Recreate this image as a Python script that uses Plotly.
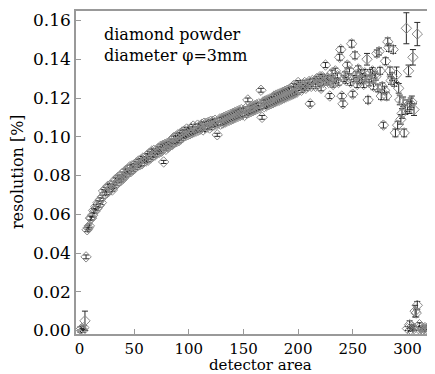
import plotly.graph_objects as go

# detector areas 1..300 (dense part)
det_main = list(range(1, 301))
res_main = [
    0.0005, 0.001, 0.0, 0.0015, 0.005, 0.038, 0.052, 0.053, 0.054, 0.058,
    0.058, 0.0595, 0.062, 0.0615, 0.064, 0.063, 0.066, 0.0645, 0.0675, 0.066,
    0.069, 0.072, 0.0705, 0.073, 0.071, 0.0745, 0.072, 0.075, 0.0735, 0.0725,
    0.076, 0.0745, 0.078, 0.0755, 0.079, 0.077, 0.0795, 0.0775, 0.081, 0.0785,
    0.080, 0.0825, 0.0805, 0.083, 0.0815, 0.0845, 0.082, 0.085, 0.083, 0.0855,
    0.084, 0.0865, 0.085, 0.0875, 0.0855, 0.088, 0.086, 0.089, 0.087, 0.0885,
    0.0875, 0.0905, 0.088, 0.0915, 0.089, 0.0925, 0.090, 0.093, 0.0905, 0.092,
    0.0915, 0.094, 0.092, 0.095, 0.0925, 0.0955, 0.087, 0.096, 0.0935, 0.0965,
    0.0945, 0.097, 0.0955, 0.098, 0.096, 0.0995, 0.097, 0.100, 0.0975, 0.101,
    0.098, 0.1015, 0.099, 0.1025, 0.100, 0.103, 0.1005, 0.104, 0.101, 0.1035,
    0.1015, 0.1045, 0.102, 0.1055, 0.1025, 0.1045, 0.103, 0.106, 0.1035, 0.1055,
    0.104, 0.1065, 0.1035, 0.107, 0.1045, 0.107, 0.105, 0.1075, 0.1045, 0.108,
    0.1055, 0.108, 0.106, 0.1085, 0.1065, 0.101, 0.107, 0.109, 0.1065, 0.1095,
    0.107, 0.110, 0.1075, 0.1105, 0.108, 0.111, 0.1085, 0.1115, 0.109, 0.112,
    0.1095, 0.1125, 0.110, 0.113, 0.1105, 0.1135, 0.111, 0.114, 0.1115, 0.1135,
    0.111, 0.1145, 0.112, 0.119, 0.1125, 0.115, 0.113, 0.1155, 0.1135, 0.116,
    0.114, 0.1165, 0.1145, 0.117, 0.115, 0.124, 0.110, 0.118, 0.1155, 0.1185,
    0.116, 0.119, 0.1165, 0.1195, 0.117, 0.120, 0.1175, 0.121, 0.118, 0.1215,
    0.1185, 0.122, 0.119, 0.1225, 0.1195, 0.123, 0.120, 0.1235, 0.1205, 0.124,
    0.121, 0.1245, 0.1215, 0.125, 0.122, 0.1265, 0.1225, 0.126, 0.123, 0.128,
    0.125, 0.127, 0.124, 0.126, 0.1255, 0.128, 0.125, 0.127, 0.126, 0.1285,
    0.117, 0.126, 0.129, 0.127, 0.1285, 0.126, 0.130, 0.127, 0.129, 0.131,
    0.125, 0.131, 0.128, 0.130, 0.137, 0.129, 0.1305, 0.128, 0.121, 0.130,
    0.133, 0.127, 0.129, 0.134, 0.129, 0.1315, 0.128, 0.141, 0.145, 0.121,
    0.117, 0.130, 0.132, 0.129, 0.137, 0.131, 0.134, 0.128, 0.148, 0.122,
    0.130, 0.142, 0.132, 0.127, 0.135, 0.129, 0.133, 0.129, 0.131, 0.127,
    0.133, 0.130, 0.140, 0.119, 0.128, 0.133, 0.130, 0.134, 0.126, 0.132,
    0.131, 0.143, 0.125, 0.144, 0.134, 0.121, 0.126, 0.106, 0.124, 0.139,
    0.121, 0.149, 0.146, 0.134, 0.129, 0.131, 0.145, 0.128, 0.102, 0.132,
    0.106, 0.125, 0.119, 0.109, 0.112, 0.118, 0.102, 0.114, 0.156, 0.116,
]
err_main = [
    0.0015, 0.001, 0.001, 0.001, 0.005, 0.001, 0.001, 0.001, 0.001, 0.001,
    0.001, 0.001, 0.001, 0.001, 0.001, 0.001, 0.001, 0.001, 0.001, 0.001,
    0.0008, 0.0008, 0.0008, 0.0008, 0.0008, 0.0008, 0.0008, 0.0008, 0.0008, 0.0008,
    0.0008, 0.0008, 0.0008, 0.0008, 0.0008, 0.0008, 0.0008, 0.0008, 0.0008, 0.0008,
    0.0008, 0.0008, 0.0008, 0.0008, 0.0008, 0.0008, 0.0008, 0.0008, 0.0008, 0.0008,
    0.0008, 0.0008, 0.0008, 0.0008, 0.0008, 0.0008, 0.0008, 0.0008, 0.0008, 0.0008,
    0.0008, 0.0008, 0.0008, 0.0008, 0.0008, 0.0008, 0.0008, 0.0008, 0.0008, 0.0008,
    0.0008, 0.0008, 0.0008, 0.0008, 0.0008, 0.0008, 0.0008, 0.0008, 0.0008, 0.0008,
    0.0008, 0.0008, 0.0008, 0.0008, 0.0008, 0.0008, 0.0008, 0.0008, 0.0008, 0.0008,
    0.0008, 0.0008, 0.0008, 0.0008, 0.0008, 0.0008, 0.0008, 0.0008, 0.0008, 0.0008,
    0.0008, 0.0008, 0.0008, 0.0008, 0.0008, 0.0008, 0.0008, 0.0008, 0.0008, 0.0008,
    0.0008, 0.0008, 0.0008, 0.0008, 0.0008, 0.0008, 0.0008, 0.0008, 0.0008, 0.0008,
    0.0008, 0.0008, 0.0008, 0.0008, 0.0008, 0.0008, 0.0008, 0.0008, 0.0008, 0.0008,
    0.0008, 0.0008, 0.0008, 0.0008, 0.0008, 0.0008, 0.0008, 0.0008, 0.0008, 0.0008,
    0.0009, 0.0009, 0.0009, 0.0009, 0.0009, 0.0009, 0.0009, 0.0009, 0.0009, 0.0009,
    0.0009, 0.0009, 0.0009, 0.001, 0.0009, 0.0009, 0.0009, 0.0009, 0.0009, 0.0009,
    0.0009, 0.0009, 0.0009, 0.0009, 0.0009, 0.001, 0.001, 0.0009, 0.0009, 0.0009,
    0.001, 0.001, 0.001, 0.001, 0.001, 0.001, 0.001, 0.001, 0.001, 0.001,
    0.001, 0.001, 0.001, 0.001, 0.001, 0.001, 0.001, 0.001, 0.001, 0.001,
    0.001, 0.001, 0.001, 0.001, 0.001, 0.001, 0.001, 0.001, 0.001, 0.001,
    0.0012, 0.0012, 0.0012, 0.0012, 0.0012, 0.0012, 0.0012, 0.0012, 0.0012, 0.0012,
    0.0012, 0.0012, 0.0012, 0.0012, 0.0012, 0.0012, 0.0012, 0.0012, 0.0012, 0.0012,
    0.0013, 0.0013, 0.0013, 0.0013, 0.0013, 0.0013, 0.0013, 0.0013, 0.0013, 0.0013,
    0.0014, 0.0014, 0.0014, 0.0014, 0.0014, 0.0014, 0.0014, 0.0015, 0.0015, 0.0014,
    0.0015, 0.0015, 0.0015, 0.0015, 0.0015, 0.0015, 0.0015, 0.0015, 0.0018, 0.0015,
    0.0016, 0.0018, 0.0016, 0.0016, 0.0016, 0.0016, 0.0016, 0.0016, 0.0016, 0.0016,
    0.0017, 0.0017, 0.003, 0.0017, 0.0017, 0.0017, 0.0017, 0.0017, 0.0017, 0.0017,
    0.0018, 0.0018, 0.0018, 0.0018, 0.0018, 0.0018, 0.0018, 0.0015, 0.0018, 0.0018,
    0.002, 0.002, 0.002, 0.002, 0.002, 0.002, 0.002, 0.002, 0.002, 0.004,
    0.002, 0.0025, 0.0025, 0.0025, 0.0025, 0.0025, 0.002, 0.0025, 0.008, 0.003,
]

# sparse end of the detector (x > 300)
det_end = [301, 302, 303, 304, 305, 306, 309,
           300, 302, 303, 304, 305, 306, 307, 308, 309, 310, 311,
           312, 313, 314, 315, 316, 317, 318, 319, 320, 321, 322]
res_end = [0.134, 0.115, 0.117, 0.118, 0.141, 0.114, 0.153,
           0.001, 0.003, 0.0005, 0.002, 0.0015, 0.001, 0.010, 0.009, 0.013, 0.001, 0.003,
           0.001, 0.0015, 0.0005, 0.001, 0.0015, 0.0005, 0.001, 0.0015, 0.001, 0.0005, 0.001]
err_end = [0.003, 0.003, 0.003, 0.003, 0.004, 0.003, 0.006,
           0.001, 0.002, 0.001, 0.001, 0.001, 0.001, 0.003, 0.002, 0.002, 0.001, 0.001,
           0.001, 0.001, 0.001, 0.001, 0.001, 0.001, 0.001, 0.001, 0.001, 0.001, 0.001]

x_ticks = [0, 50, 100, 150, 200, 250, 300]
y_ticks = [0.00, 0.02, 0.04, 0.06, 0.08, 0.10, 0.12, 0.14, 0.16]
y_labels = ["0.00", "0.02", "0.04", "0.06", "0.08", "0.10", "0.12", "0.14", "0.16"]

FONT = "DejaVu Serif"
mk = dict(symbol="diamond-open", size=8, color="#8a8a8a", line=dict(width=1))
eb_style = dict(type="data", color="#2a2a2a", thickness=1, width=3)

fig = go.Figure()
fig.add_trace(go.Scatter(
    x=det_main, y=res_main, mode="markers", marker=mk,
    error_y=dict(array=err_main, **eb_style), showlegend=False))
fig.add_trace(go.Scatter(
    x=det_end, y=res_end, mode="markers", marker=mk,
    error_y=dict(array=err_end, **eb_style), showlegend=False))

# page body adds an 8 px offset; figure is sized so the plot lands where the reference has it
fig.update_layout(
    width=427, height=366,
    margin=dict(l=68, r=0, t=3, b=40, autoexpand=False),
    paper_bgcolor="white", plot_bgcolor="white",
    font=dict(family=FONT, size=16, color="black"),
    annotations=[
        dict(text="diamond powder<br>diameter φ=3mm", x=21, y=0.1585,
             xref="x", yref="y", xanchor="left", yanchor="top", align="left",
             showarrow=False, font=dict(family=FONT, size=16, color="black")),
        dict(text="resolution [%]", x=-0.1643, y=0.5015, xref="paper", yref="paper",
             xanchor="center", yanchor="middle",
             showarrow=False, textangle=-90,
             font=dict(family=FONT, size=16, color="black")),
        dict(text="detector area", x=0.5153, y=-0.096, xref="paper", yref="paper",
             xanchor="center", yanchor="middle", borderpad=0,
             showarrow=False, font=dict(family=FONT, size=15, color="black")),
    ],
)
fig.update_xaxes(
    range=[-3.2, 325.2], tickvals=x_ticks, ticks="inside", ticklen=5,
    tickcolor="#999", showline=True, linecolor="#999", linewidth=1.5,
    mirror=True, showgrid=False, zeroline=False, automargin=False,
    tickfont=dict(family=FONT, size=15, color="black"))
fig.update_yaxes(
    range=[-0.0018, 0.1649], tickvals=y_ticks, ticktext=y_labels,
    ticks="inside", ticklen=5, tickcolor="#999", showline=True,
    linecolor="#999", linewidth=1.5, showgrid=False, zeroline=False,
    automargin=False,
    tickfont=dict(family=FONT, size=17, color="black"))

fig.write_html("out.html")
